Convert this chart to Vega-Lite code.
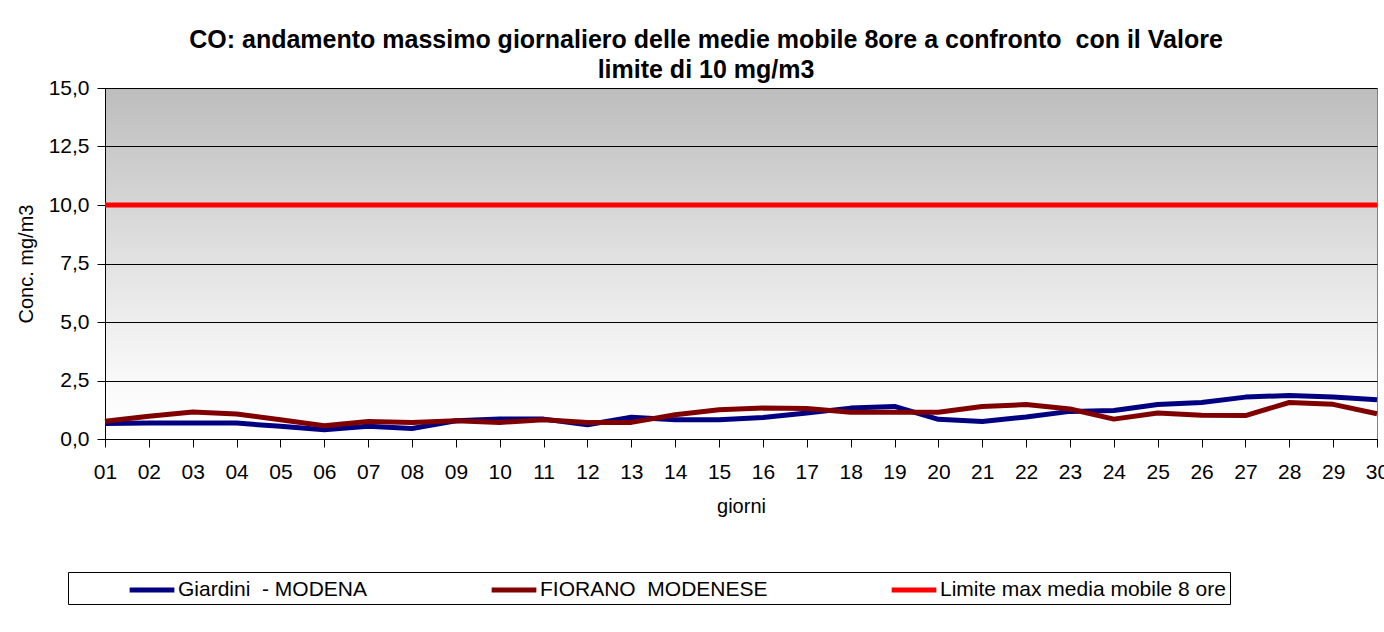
{
  "$schema": "https://vega.github.io/schema/vega-lite/v6.json",
  "width": 1272,
  "height": 351,
  "padding": {"left": 16, "top": 28, "right": 0, "bottom": 20},
  "background": "white",
  "config": {
    "font": "Liberation Sans",
    "view": {"stroke": "#808080", "strokeWidth": 1}
  },
  "view": {
    "fill": {
      "gradient": "linear",
      "x1": 0, "y1": 0, "x2": 0, "y2": 1,
      "stops": [
        {"offset": 0, "color": "#bdbdbd"},
        {"offset": 0.55, "color": "#e6e6e6"},
        {"offset": 0.85, "color": "#fafafa"},
        {"offset": 1, "color": "#ffffff"}
      ]
    },
    "stroke": "#808080"
  },
  "title": {
    "text": ["CO: andamento massimo giornaliero delle medie mobile 8ore a confronto \u00a0con il Valore", "limite di 10 mg/m3"],
    "fontSize": 25,
    "fontWeight": "bold",
    "font": "Liberation Sans",
    "color": "black",
    "anchor": "middle",
    "dx": -35,
    "lineHeight": 30,
    "offset": -6
  },
  "data": {
    "values": [
      {"giorno": "01", "serie": "Giardini \u00a0- MODENA", "valore": 0.66},
      {"giorno": "02", "serie": "Giardini \u00a0- MODENA", "valore": 0.68},
      {"giorno": "03", "serie": "Giardini \u00a0- MODENA", "valore": 0.68},
      {"giorno": "04", "serie": "Giardini \u00a0- MODENA", "valore": 0.68},
      {"giorno": "05", "serie": "Giardini \u00a0- MODENA", "valore": 0.54},
      {"giorno": "06", "serie": "Giardini \u00a0- MODENA", "valore": 0.40},
      {"giorno": "07", "serie": "Giardini \u00a0- MODENA", "valore": 0.54},
      {"giorno": "08", "serie": "Giardini \u00a0- MODENA", "valore": 0.45},
      {"giorno": "09", "serie": "Giardini \u00a0- MODENA", "valore": 0.78},
      {"giorno": "10", "serie": "Giardini \u00a0- MODENA", "valore": 0.86},
      {"giorno": "11", "serie": "Giardini \u00a0- MODENA", "valore": 0.85},
      {"giorno": "12", "serie": "Giardini \u00a0- MODENA", "valore": 0.61},
      {"giorno": "13", "serie": "Giardini \u00a0- MODENA", "valore": 0.93},
      {"giorno": "14", "serie": "Giardini \u00a0- MODENA", "valore": 0.82},
      {"giorno": "15", "serie": "Giardini \u00a0- MODENA", "valore": 0.82},
      {"giorno": "16", "serie": "Giardini \u00a0- MODENA", "valore": 0.92},
      {"giorno": "17", "serie": "Giardini \u00a0- MODENA", "valore": 1.11},
      {"giorno": "18", "serie": "Giardini \u00a0- MODENA", "valore": 1.32},
      {"giorno": "19", "serie": "Giardini \u00a0- MODENA", "valore": 1.39},
      {"giorno": "20", "serie": "Giardini \u00a0- MODENA", "valore": 0.84},
      {"giorno": "21", "serie": "Giardini \u00a0- MODENA", "valore": 0.75},
      {"giorno": "22", "serie": "Giardini \u00a0- MODENA", "valore": 0.94},
      {"giorno": "23", "serie": "Giardini \u00a0- MODENA", "valore": 1.18},
      {"giorno": "24", "serie": "Giardini \u00a0- MODENA", "valore": 1.22},
      {"giorno": "25", "serie": "Giardini \u00a0- MODENA", "valore": 1.47},
      {"giorno": "26", "serie": "Giardini \u00a0- MODENA", "valore": 1.56},
      {"giorno": "27", "serie": "Giardini \u00a0- MODENA", "valore": 1.79},
      {"giorno": "28", "serie": "Giardini \u00a0- MODENA", "valore": 1.86},
      {"giorno": "29", "serie": "Giardini \u00a0- MODENA", "valore": 1.79},
      {"giorno": "30", "serie": "Giardini \u00a0- MODENA", "valore": 1.68},
      {"giorno": "01", "serie": "FIORANO \u00a0MODENESE", "valore": 0.76},
      {"giorno": "02", "serie": "FIORANO \u00a0MODENESE", "valore": 0.97},
      {"giorno": "03", "serie": "FIORANO \u00a0MODENESE", "valore": 1.15},
      {"giorno": "04", "serie": "FIORANO \u00a0MODENESE", "valore": 1.07},
      {"giorno": "05", "serie": "FIORANO \u00a0MODENESE", "valore": 0.82},
      {"giorno": "06", "serie": "FIORANO \u00a0MODENESE", "valore": 0.57},
      {"giorno": "07", "serie": "FIORANO \u00a0MODENESE", "valore": 0.75},
      {"giorno": "08", "serie": "FIORANO \u00a0MODENESE", "valore": 0.71},
      {"giorno": "09", "serie": "FIORANO \u00a0MODENESE", "valore": 0.78},
      {"giorno": "10", "serie": "FIORANO \u00a0MODENESE", "valore": 0.71},
      {"giorno": "11", "serie": "FIORANO \u00a0MODENESE", "valore": 0.82},
      {"giorno": "12", "serie": "FIORANO \u00a0MODENESE", "valore": 0.71},
      {"giorno": "13", "serie": "FIORANO \u00a0MODENESE", "valore": 0.71},
      {"giorno": "14", "serie": "FIORANO \u00a0MODENESE", "valore": 1.04},
      {"giorno": "15", "serie": "FIORANO \u00a0MODENESE", "valore": 1.25},
      {"giorno": "16", "serie": "FIORANO \u00a0MODENESE", "valore": 1.32},
      {"giorno": "17", "serie": "FIORANO \u00a0MODENESE", "valore": 1.30},
      {"giorno": "18", "serie": "FIORANO \u00a0MODENESE", "valore": 1.14},
      {"giorno": "19", "serie": "FIORANO \u00a0MODENESE", "valore": 1.14},
      {"giorno": "20", "serie": "FIORANO \u00a0MODENESE", "valore": 1.14},
      {"giorno": "21", "serie": "FIORANO \u00a0MODENESE", "valore": 1.39},
      {"giorno": "22", "serie": "FIORANO \u00a0MODENESE", "valore": 1.47},
      {"giorno": "23", "serie": "FIORANO \u00a0MODENESE", "valore": 1.28},
      {"giorno": "24", "serie": "FIORANO \u00a0MODENESE", "valore": 0.85},
      {"giorno": "25", "serie": "FIORANO \u00a0MODENESE", "valore": 1.11},
      {"giorno": "26", "serie": "FIORANO \u00a0MODENESE", "valore": 1.01},
      {"giorno": "27", "serie": "FIORANO \u00a0MODENESE", "valore": 1.00},
      {"giorno": "28", "serie": "FIORANO \u00a0MODENESE", "valore": 1.56},
      {"giorno": "29", "serie": "FIORANO \u00a0MODENESE", "valore": 1.48},
      {"giorno": "30", "serie": "FIORANO \u00a0MODENESE", "valore": 1.08},
      {"giorno": "01", "serie": "Limite max media mobile 8 ore", "valore": 10},
      {"giorno": "02", "serie": "Limite max media mobile 8 ore", "valore": 10},
      {"giorno": "03", "serie": "Limite max media mobile 8 ore", "valore": 10},
      {"giorno": "04", "serie": "Limite max media mobile 8 ore", "valore": 10},
      {"giorno": "05", "serie": "Limite max media mobile 8 ore", "valore": 10},
      {"giorno": "06", "serie": "Limite max media mobile 8 ore", "valore": 10},
      {"giorno": "07", "serie": "Limite max media mobile 8 ore", "valore": 10},
      {"giorno": "08", "serie": "Limite max media mobile 8 ore", "valore": 10},
      {"giorno": "09", "serie": "Limite max media mobile 8 ore", "valore": 10},
      {"giorno": "10", "serie": "Limite max media mobile 8 ore", "valore": 10},
      {"giorno": "11", "serie": "Limite max media mobile 8 ore", "valore": 10},
      {"giorno": "12", "serie": "Limite max media mobile 8 ore", "valore": 10},
      {"giorno": "13", "serie": "Limite max media mobile 8 ore", "valore": 10},
      {"giorno": "14", "serie": "Limite max media mobile 8 ore", "valore": 10},
      {"giorno": "15", "serie": "Limite max media mobile 8 ore", "valore": 10},
      {"giorno": "16", "serie": "Limite max media mobile 8 ore", "valore": 10},
      {"giorno": "17", "serie": "Limite max media mobile 8 ore", "valore": 10},
      {"giorno": "18", "serie": "Limite max media mobile 8 ore", "valore": 10},
      {"giorno": "19", "serie": "Limite max media mobile 8 ore", "valore": 10},
      {"giorno": "20", "serie": "Limite max media mobile 8 ore", "valore": 10},
      {"giorno": "21", "serie": "Limite max media mobile 8 ore", "valore": 10},
      {"giorno": "22", "serie": "Limite max media mobile 8 ore", "valore": 10},
      {"giorno": "23", "serie": "Limite max media mobile 8 ore", "valore": 10},
      {"giorno": "24", "serie": "Limite max media mobile 8 ore", "valore": 10},
      {"giorno": "25", "serie": "Limite max media mobile 8 ore", "valore": 10},
      {"giorno": "26", "serie": "Limite max media mobile 8 ore", "valore": 10},
      {"giorno": "27", "serie": "Limite max media mobile 8 ore", "valore": 10},
      {"giorno": "28", "serie": "Limite max media mobile 8 ore", "valore": 10},
      {"giorno": "29", "serie": "Limite max media mobile 8 ore", "valore": 10},
      {"giorno": "30", "serie": "Limite max media mobile 8 ore", "valore": 10}
    ]
  },
  "mark": {"type": "line", "strokeWidth": 5, "strokeJoin": "round"},
  "encoding": {
    "x": {
      "field": "giorno",
      "type": "ordinal",
      "scale": {"type": "point", "padding": 0},
      "axis": {
        "title": "giorni",
        "titleFontSize": 20,
        "titleFontWeight": "normal",
        "titleColor": "black",
        "titlePadding": 14,
        "labelAngle": 0,
        "labelFontSize": 21,
        "labelColor": "black",
        "labelPadding": 14,
        "tickSize": 8,
        "tickColor": "black",
        "domainColor": "black",
        "grid": false
      }
    },
    "y": {
      "field": "valore",
      "type": "quantitative",
      "scale": {"domain": [0, 15], "nice": false},
      "axis": {
        "title": "Conc. mg/m3",
        "titleFontSize": 20,
        "titleFontWeight": "normal",
        "titleColor": "black",
        "titlePadding": 12,
        "values": [0, 2.5, 5, 7.5, 10, 12.5, 15],
        "labelExpr": "replace(format(datum.value, '.1f'), '.', ',')",
        "labelFontSize": 21,
        "labelColor": "black",
        "labelPadding": 8,
        "tickSize": 8,
        "tickColor": "black",
        "domainColor": "black",
        "grid": true,
        "gridColor": "black",
        "gridOpacity": 1,
        "gridWidth": 1
      }
    },
    "color": {
      "field": "serie",
      "type": "nominal",
      "scale": {
        "domain": ["Giardini \u00a0- MODENA", "FIORANO \u00a0MODENESE", "Limite max media mobile 8 ore"],
        "range": ["#000080", "#800000", "#ff0000"]
      },
      "legend": {
        "title": null,
        "orient": "none",
        "legendX": -37,
        "legendY": 484,
        "direction": "horizontal",
        "columns": 3,
        "columnPadding": 66,
        "symbolType": "M-2,0H2",
        "symbolStrokeWidth": 5,
        "symbolSize": 500,
        "symbolOffset": 66,
        "labelFontSize": 21,
        "labelColor": "black",
        "labelOffset": 12,
        "labelLimit": 400,
        "strokeColor": "black",
        "fillColor": "white",
        "padding": 4
      }
    }
  }
}
